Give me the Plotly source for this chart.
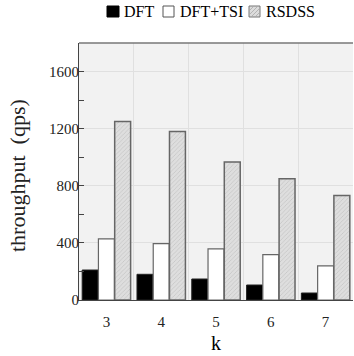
import plotly.graph_objects as go

k_values = ["3", "4", "5", "6", "7"]
dft = [210, 180, 147, 105, 49]
dft_tsi = [428, 395, 358, 318, 239]
rsdss = [1251, 1181, 966, 849, 732]
y_ticks = [0, 400, 800, 1200, 1600]
series_names = ["DFT", "DFT+TSI", "RSDSS"]

FONT = "Liberation Serif"
W, H = 354, 356
ML, MR, MT, MB = 79, 1, 43, 56
PW, PH = W - ML - MR, H - MT - MB


def px_x(px):
    return (px - ML) / PW


def px_y(py):
    return (H - MB - py) / PH


fig = go.Figure()
fig.add_trace(go.Bar(
    name=series_names[0], x=k_values, y=dft,
    marker=dict(color="black", line=dict(color="#222222", width=1)),
))
fig.add_trace(go.Bar(
    name=series_names[1], x=k_values, y=dft_tsi,
    marker=dict(color="white", line=dict(color="#666666", width=1.2)),
))
fig.add_trace(go.Bar(
    name=series_names[2], x=k_values, y=rsdss,
    marker=dict(color="#dedede", line=dict(color="#666666", width=1.5),
                pattern=dict(shape="/", fgcolor="#aaaaaa", bgcolor="#dedede",
                             size=3, solidity=0.25)),
))

fig.update_layout(
    width=W, height=H,
    margin=dict(l=ML, r=MR, t=MT, b=MB),
    barmode="group", bargap=0.11, bargroupgap=0.02,
    plot_bgcolor="#f2f2f2", paper_bgcolor="white",
    font=dict(family=FONT, size=15, color="#222222"),
    showlegend=False,
)

# custom legend (symbols + text)
legend_sq = [(107, 119), (163, 174), (249, 260)]
legend_tx = [122, 178, 264]
sq_top, sq_bot, ty = 6, 17, 12
fills = ["black", "white", "#dcdcdc"]
lines = ["black", "#555555", "#777777"]
for (x0, x1), tx, name, fc, lc in zip(legend_sq, legend_tx, series_names, fills, lines):
    fig.add_shape(type="rect", xref="paper", yref="paper",
                  x0=px_x(x0), x1=px_x(x1), y0=px_y(sq_bot), y1=px_y(sq_top),
                  fillcolor=fc, line=dict(color=lc, width=1))
    fig.add_annotation(text=name, xref="paper", yref="paper", x=px_x(tx), y=px_y(ty),
                       xanchor="left", yanchor="middle", showarrow=False,
                       font=dict(family=FONT, size=16, color="black"))
# hatch lines in the RSDSS legend symbol
hx0, hx1 = legend_sq[2]
for off in (-6, -2, 2, 6):
    a0, a1 = max(hx0, hx0 + off), min(hx1, hx1 + off)
    fig.add_shape(type="line", xref="paper", yref="paper",
                  x0=px_x(a0), x1=px_x(a1),
                  y0=px_y(sq_bot - (a0 - hx0 - off)), y1=px_y(sq_bot - (a1 - hx0 - off)),
                  line=dict(color="#a8a8a8", width=0.8))

# y-axis title
fig.add_annotation(text="throughput  (qps)", xref="paper", yref="paper",
                   x=px_x(18), y=px_y(176), textangle=-90, showarrow=False,
                   xanchor="center", yanchor="middle",
                   font=dict(family=FONT, size=22, color="#222222"))

fig.update_xaxes(
    type="category", tickson="boundaries", ticks="", range=[-0.5, 4.5],
    showgrid=True, gridcolor="#e0e0e0", gridwidth=1,
    showline=True, linecolor="#444444", linewidth=1.2, mirror=False,
    ticklabelstandoff=8,
    title=dict(text="k", font=dict(family=FONT, size=20, color="black"), standoff=6),
    tickfont=dict(family=FONT, size=15, color="#222222"),
)
fig.update_yaxes(
    range=[0, 1800], tickvals=y_ticks, ticks="inside", ticklen=5,
    tickcolor="#444444",
    minor=dict(dtick=200, ticks="inside", ticklen=5, tickcolor="#444444", showgrid=False),
    showgrid=True, gridcolor="#e0e0e0", gridwidth=1,
    showline=True, linecolor="#444444", linewidth=1.2, mirror=False,
    zeroline=False, ticklabelstandoff=-4,
    tickfont=dict(family=FONT, size=15, color="#222222"),
)
# top border line
fig.add_shape(type="line", xref="paper", yref="paper", x0=0, x1=1, y0=1, y1=1,
              line=dict(color="#777777", width=1.5))

fig.write_html("out.html", config={"displayModeBar": False},
               post_script="document.body.style.margin='0';document.body.style.padding='0';")
